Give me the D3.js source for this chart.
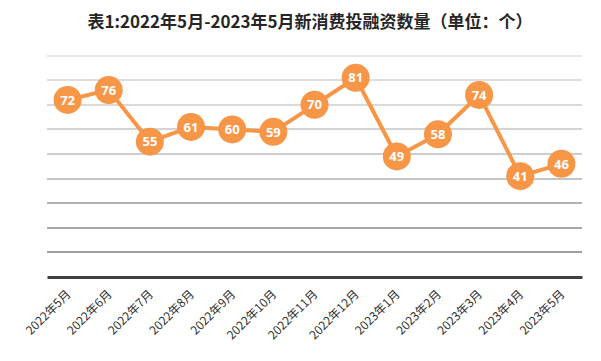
<!DOCTYPE html>
<html>
<head>
<meta charset="utf-8">
<script src="https://cdn.jsdelivr.net/npm/d3@7"></script>
<style>
html,body{margin:0;padding:0;background:#fff;}
svg{display:block;}
</style>
</head>
<body>
<script>
const titleText = "表1:2022年5月-2023年5月新消费投融资数量（单位：个）";
const categories = ["2022年5月","2022年6月","2022年7月","2022年8月","2022年9月","2022年10月","2022年11月","2022年12月","2023年1月","2023年2月","2023年3月","2023年4月","2023年5月"];
const values = [72,76,55,61,60,59,70,81,49,58,74,41,46];
const gridTicks = [10,20,30,40,50,60,70,80,90];
const gridColors = ["#a0a0a0","#a8a8a8","#b3b3b3","#c4c4c4","#cdcdcd","#d4d4d4","#dadada","#dedede","#e6e6e6"];

const W = 601, H = 361;
const svg = d3.select("body").append("svg").attr("width", W).attr("height", H);
svg.append("rect").attr("width", W).attr("height", H).attr("fill", "#fff");

const x = d3.scaleBand().domain(categories).range([47, 582]);
const y = d3.scaleLinear().domain([0, 90]).range([277, 55.6]);

svg.append("text")
  .attr("x", 310).attr("y", 28)
  .attr("text-anchor", "middle")
  .attr("font-family", "'Noto Sans CJK SC', sans-serif")
  .attr("font-weight", "bold")
  .attr("font-size", 17)
  .attr("fill", "#262626")
  .text(titleText);

svg.append("g").selectAll("line").data(gridTicks).join("line")
  .attr("x1", 47).attr("x2", 582)
  .attr("y1", d => Math.round(y(d))).attr("y2", d => Math.round(y(d)))
  .attr("stroke", (d, i) => gridColors[i])
  .attr("stroke-width", 2);

const xAxis = d3.axisBottom(x).tickSize(0).tickPadding(0);
const gx = svg.append("g").attr("transform", `translate(0,${y(0)})`).call(xAxis);
gx.select(".domain").attr("stroke", "#404040").attr("stroke-width", 3);
gx.selectAll(".tick text")
  .attr("font-family", "'Noto Sans CJK SC', sans-serif")
  .attr("font-size", 12)
  .attr("fill", "#333")
  .attr("text-anchor", "end")
  .attr("dy", 0)
  .attr("y", 0)
  .attr("transform", "translate(4,18) rotate(-45)");

const cx = d => x(d) + x.bandwidth() / 2;
const line = d3.line().x((d, i) => cx(categories[i])).y(d => y(d));
svg.append("path").datum(values)
  .attr("d", line)
  .attr("fill", "none")
  .attr("stroke", "#f79646")
  .attr("stroke-width", 4)
  .attr("stroke-linejoin", "round");

const pts = svg.append("g").selectAll("g").data(values).join("g")
  .attr("transform", (d, i) => `translate(${cx(categories[i])},${y(d)})`);
pts.append("circle").attr("r", 14).attr("fill", "#f79646");
pts.append("text")
  .attr("text-anchor", "middle")
  .attr("dy", "0.36em")
  .attr("font-family", "'Noto Sans', 'DejaVu Sans', sans-serif")
  .attr("font-weight", "bold")
  .attr("font-size", 13)
  .attr("fill", "#fff")
  .text(d => d);
</script>
</body>
</html>
